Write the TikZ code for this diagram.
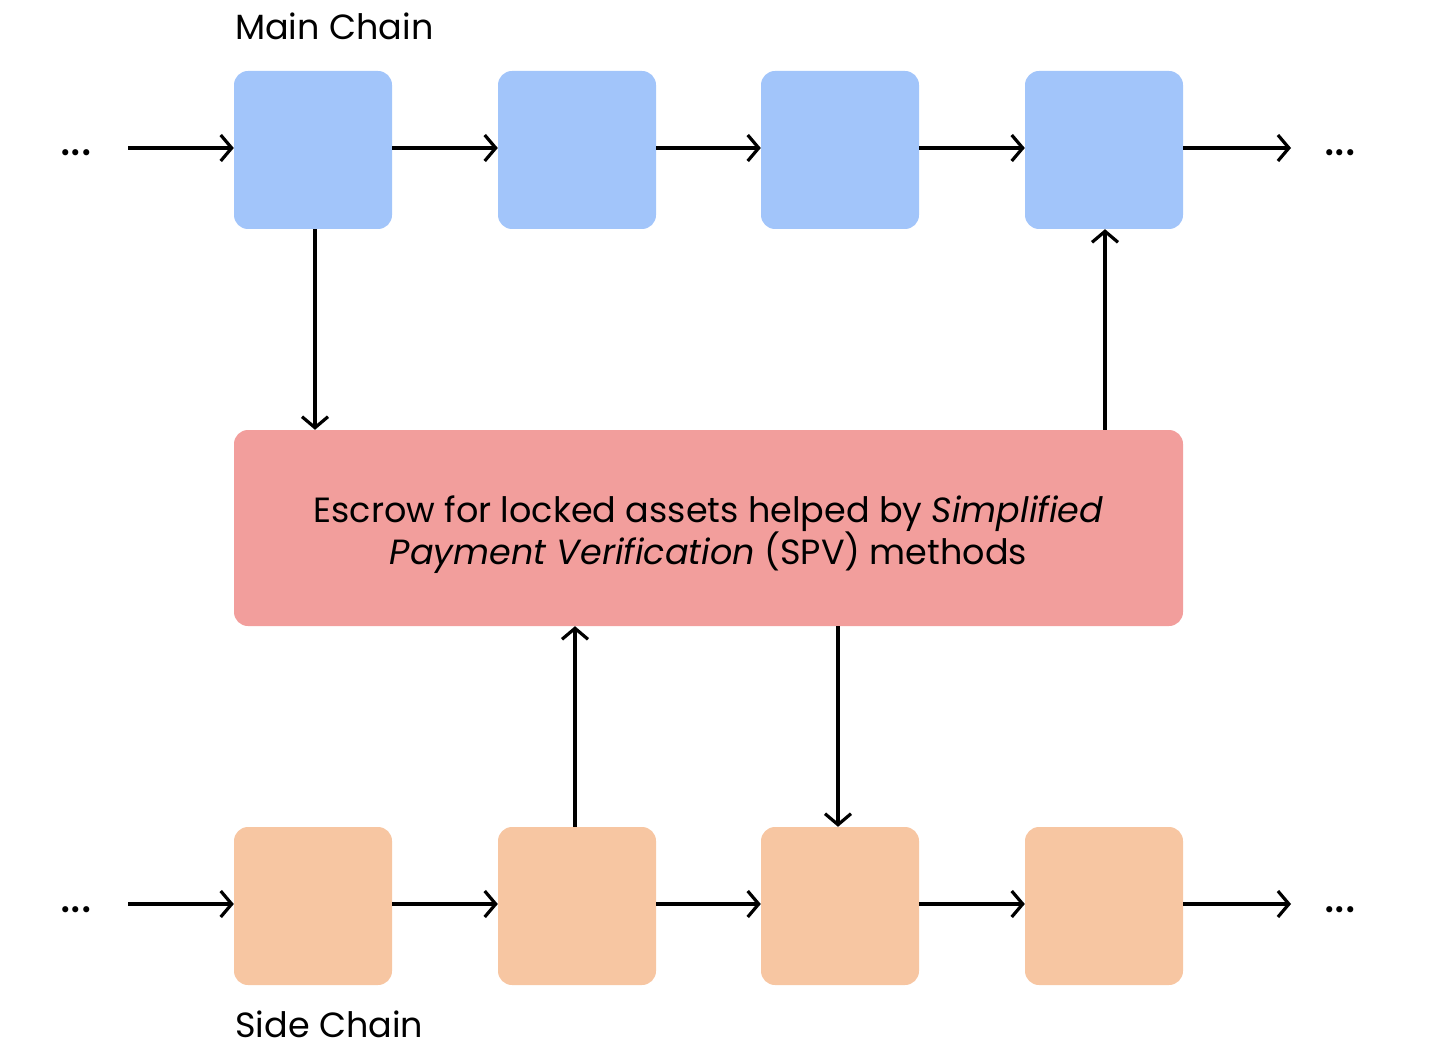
\documentclass[tikz,border=0pt]{standalone}
\usepackage{fontspec}
\setmainfont{Poppins}
\usetikzlibrary{arrows.meta}
\definecolor{mainblue}{HTML}{A2C5FA}
\definecolor{sidepeach}{HTML}{F7C6A2}
\definecolor{escrowpink}{HTML}{F29E9C}
\begin{document}
\begin{tikzpicture}[x=1pt,y=-1pt,
  blk/.style={rounded corners=14pt, minimum width=158pt, minimum height=158pt, inner sep=0pt, draw=none},
  mainblk/.style={blk, fill=mainblue},
  sideblk/.style={blk, fill=sidepeach},
  conn/.style={line width=3.2pt, -{Straight Barb[length=11pt,width=26pt,line width=3.2pt]}},
  lbl/.style={font=\fontsize{35}{42}\selectfont, inner sep=0pt},
  dots/.style={font=\fontsize{50}{50}\selectfont, inner sep=0pt, anchor=base}]
\useasboundingbox (0,0) rectangle (1434,1048);
% main chain
\node[mainblk] (m1) at (313,150) {};
\node[mainblk] (m2) at (577,150) {};
\node[mainblk] (m3) at (840,150) {};
\node[mainblk] (m4) at (1104,150) {};
% side chain
\node[sideblk] (s1) at (313,906) {};
\node[sideblk] (s2) at (577,906) {};
\node[sideblk] (s3) at (840,906) {};
\node[sideblk] (s4) at (1104,906) {};
% escrow
\node[rounded corners=14pt, fill=escrowpink, minimum width=949pt, minimum height=196pt, inner sep=0pt] (esc) at (708.5,528) {};
\node[align=center, font=\fontsize{35}{42}\selectfont, inner sep=0pt] (esctext) at (708.5,535)
  {Escrow for locked assets helped by \textit{Simplified}\\\textit{Payment Verification} (SPV) methods};
% labels
\node[lbl, anchor=base west] (mlabel) at (235,40) {Main Chain};
\node[lbl, anchor=base west] (slabel) at (235,1037) {Side Chain};
% dots
\node[dots] (ml) at (76,156) {...};
\node[dots] (mr) at (1340,156) {...};
\node[dots] (sl) at (76,912) {...};
\node[dots] (sr) at (1340,912) {...};
\coordinate (mlin) at (128,148);
\coordinate (mrout) at (1291,148);
\coordinate (slin) at (128,904);
\coordinate (srout) at (1291,904);
% horizontal connectors
\draw[conn] (mlin) -- (m1.west |- mlin);
\draw[conn] (m1.east |- mlin) -- (m2.west |- mlin);
\draw[conn] (m2.east |- mlin) -- (m3.west |- mlin);
\draw[conn] (m3.east |- mlin) -- (m4.west |- mlin);
\draw[conn] (m4.east |- mlin) -- (mrout);
\draw[conn] (slin) -- (s1.west |- slin);
\draw[conn] (s1.east |- slin) -- (s2.west |- slin);
\draw[conn] (s2.east |- slin) -- (s3.west |- slin);
\draw[conn] (s3.east |- slin) -- (s4.west |- slin);
\draw[conn] (s4.east |- slin) -- (srout);
% vertical connectors
\draw[conn] ([xshift=2pt]m1.south) -- ([xshift=2pt]m1.south |- esc.north);
\draw[conn] ([xshift=1pt]m4.south |- esc.north) -- ([xshift=1pt]m4.south);
\draw[conn] ([xshift=-2pt]s2.north) -- ([xshift=-2pt]s2.north |- esc.south);
\draw[conn] ([xshift=-2pt]s3.north |- esc.south) -- ([xshift=-2pt]s3.north);
\end{tikzpicture}
\end{document}
